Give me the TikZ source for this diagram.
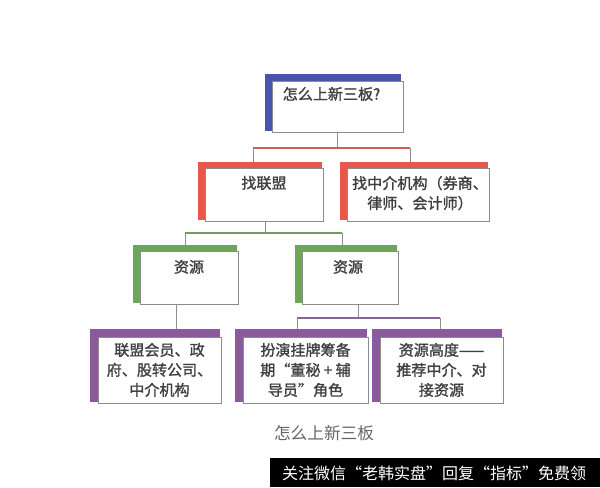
\documentclass[tikz,border=0pt]{standalone}
\usepackage{fontspec}
\newfontfamily\cjk{Noto Sans CJK SC}[FakeBold=1.4]
\newfontfamily\cjkw{Noto Sans CJK SC}
\usetikzlibrary{backgrounds,calc}
\definecolor{cblue}{HTML}{4A54A8}
\definecolor{cred}{HTML}{E8574B}
\definecolor{cgreen}{HTML}{6FA557}
\definecolor{cpurple}{HTML}{8B5A9C}
\definecolor{ctext}{HTML}{404040}
\definecolor{cstem}{HTML}{8E8E8E}
\tikzset{
  wbox/.style={rectangle, draw=black!45, fill=white, line width=0.5pt, inner sep=0pt},
  txt/.style={anchor=north, inner sep=0pt, align=center, text=ctext,
    font=\cjk\fontsize{11.3}{15}\selectfont},
  stem/.style={draw=cstem, line width=0.7pt},
  bar/.style={line width=0.8pt},
}
\begin{document}
\begin{tikzpicture}[x=0.75pt,y=-0.75pt]
\useasboundingbox (0,0) rectangle (600,487);

% boxes (white parts)
\node[wbox, minimum width=131*0.75pt, minimum height=51*0.75pt] (b1) at (337.5,106.5) {};
\node[wbox, minimum width=118*0.75pt, minimum height=53*0.75pt] (b2) at (264,194.5) {};
\node[wbox, minimum width=142*0.75pt, minimum height=53*0.75pt] (b3) at (418,194.5) {};
\node[wbox, minimum width=98*0.75pt, minimum height=53*0.75pt] (g1) at (189,277.5) {};
\node[wbox, minimum width=96*0.75pt, minimum height=53*0.75pt] (g2) at (350,277.5) {};
\node[wbox, minimum width=123*0.75pt, minimum height=66*0.75pt] (p1) at (159.5,370) {};
\node[wbox, minimum width=125*0.75pt, minimum height=66*0.75pt] (p2) at (305.5,370) {};
\node[wbox, minimum width=123*0.75pt, minimum height=66*0.75pt] (p3) at (441.5,370) {};

% page background and coloured bands behind
\begin{scope}[on background layer]
  \fill[white] (0,0) rectangle (600,487);
  \fill[cblue] ($(b1.north west)+(-7,-7)$) rectangle ($(b1.south east)+(-2,-1)$);
  \foreach \n in {b2,b3}
    \fill[cred] ($(\n.north west)+(-7,-6)$) rectangle ($(\n.south east)+(-1,-1)$);
  \foreach \n in {g1,g2}
    \fill[cgreen] ($(\n.north west)+(-7,-6)$) rectangle ($(\n.south east)+(-1,-1)$);
  \foreach \n in {p1,p2,p3}
    \fill[cpurple] ($(\n.north west)+(-8,-8)$) rectangle ($(\n.south east)+(-1,-1)$);
\end{scope}

% texts
\node[txt] (t1) at ($(b1.north)+(-6,6)$) {怎么上新三板?};
\node[txt] (t2) at ($(b2.north)+(0,8)$) {找联盟};
\node[txt] (t3) at ($(b3.north)+(2,8)$) {找中介机构（券商、\\律师、会计师）};
\node[txt] (t4) at ($(g1.north)+(0,9)$) {资源};
\node[txt] (t5) at ($(g2.north)+(-2,9)$) {资源};
\node[txt] (t6) at ($(p1.north)+(0,6)$) {联盟会员、政\\府、股转公司、\\中介机构};
\node[txt] (t7) at ($(p2.north)+(0,6)$) {扮演挂牌筹备\\期“董秘 + 辅\\导员”角色};
\node[txt] (t8) at ($(p3.north)+(0,6)$) {资源高度——\\推荐中介、对\\接资源};

% connectors: level 1 -> 2
\coordinate (j1) at ($(b1.south)+(0,16)$);
\coordinate (j1a) at (253,148);
\coordinate (j1b) at (410,148);
\draw[stem] (b1.south) -- (j1);
\draw[bar, draw=cred!75!gray] (j1a) -- (j1b);
\draw[stem] (j1a) -- ($(b2.north west)!(j1a)!(b2.north east)+(0,-6)$);
\draw[stem] (j1b) -- ($(b3.north west)!(j1b)!(b3.north east)+(0,-6)$);

% level 2 -> 3
\coordinate (j2) at ($(b2.south)+(1,12)$);
\coordinate (j2a) at (185,233);
\coordinate (j2b) at (342,233);
\draw[stem] ($(b2.south)+(1,0)$) -- (j2);
\draw[bar, draw=cgreen!70!gray] (j2a) -- (j2b);
\draw[stem] (j2a) -- ($(g1.north west)!(j2a)!(g1.north east)+(0,-6)$);
\draw[stem] (j2b) -- ($(g2.north west)!(j2b)!(g2.north east)+(0,-6)$);

% level 3 -> 4
\draw[stem] ($(g1.south west)!(176,0)!(g1.south east)$) -- ($(p1.north west)!(176,0)!(p1.north east)+(0,-8)$);
\coordinate (j3) at (358,318);
\coordinate (j3a) at (297,318);
\coordinate (j3b) at (440,318);
\draw[stem] ($(g2.south west)!(j3)!(g2.south east)$) -- (j3);
\draw[bar, draw=cpurple!70!gray] (j3a) -- (j3b);
\draw[stem] (j3a) -- ($(p2.north west)!(j3a)!(p2.north east)+(0,-8)$);
\draw[stem] (j3b) -- ($(p3.north west)!(j3b)!(p3.north east)+(0,-8)$);

% caption
\node[inner sep=0pt, text=black!60, font=\cjkw\fontsize{12.5}{15}\selectfont] (cap) at (324,433) {怎么上新三板};

% watermark bar
\fill[black] (270,458) rectangle (600,487);
\node[inner sep=0pt, text=white, font=\cjkw\fontsize{12}{14}\selectfont] (wm) at (434,473) {关注微信“老韩实盘”回复“指标”免费领};
\end{tikzpicture}
\end{document}
